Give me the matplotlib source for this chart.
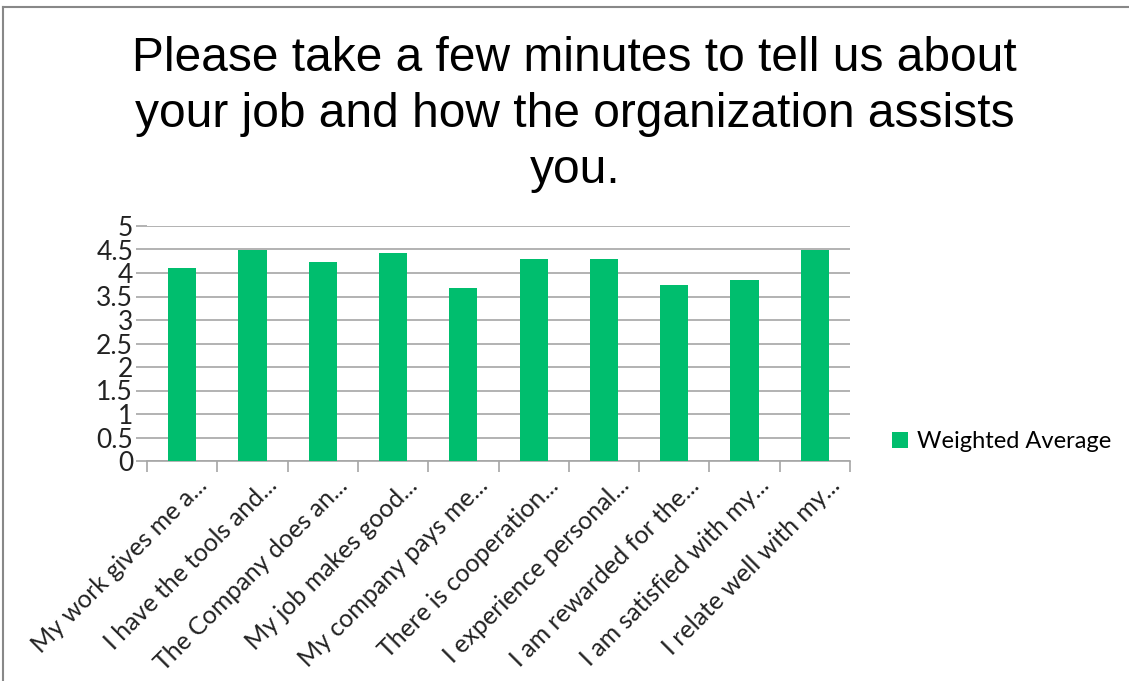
import numpy as np
import matplotlib.pyplot as plt
import matplotlib.transforms as mtransforms
from matplotlib.patches import Patch
from matplotlib.lines import Line2D

# Datos de la encuesta
preguntas = [
    'My work gives me a...',
    'I have the tools and...',
    'The Company does an...',
    'My job makes good...',
    'My company pays me...',
    'There is cooperation...',
    'I experience personal...',
    'I am rewarded for the...',
    'I am satisfied with my...',
    'I relate well with my...',
]
promedio = [4.10, 4.49, 4.23, 4.43, 3.69, 4.29, 4.29, 3.74, 3.85, 4.49]
serie = 'Weighted Average'
titulo = 'Please take a few minutes to tell us about\nyour job and how the organization assists\nyou.'

verde = '#00BE6E'
gris = '#A6A6A6'

fig = plt.figure(figsize=(11.29, 6.81), dpi=100)
ax = fig.add_axes([147 / 1129, 1 - 461 / 681, (850 - 147) / 1129, (461 - 226) / 681])

x = np.arange(len(preguntas))
ax.bar(x, promedio, width=0.4, color=verde, zorder=3)

ax.set_xlim(-0.5, len(preguntas) - 0.5)
ax.set_ylim(0, 5)
ax.set_yticks(np.arange(0, 5.01, 0.5))
ax.set_yticklabels(['0', '0.5', '1', '1.5', '2', '2.5', '3', '3.5', '4', '4.5', '5'])
ax.grid(axis='y', color=gris, linewidth=1.2, zorder=0)

# Marcas del eje x entre categorías, etiquetas en el centro
ax.set_xticks(np.arange(-0.5, len(preguntas), 1))
ax.set_xticklabels([])
ax.set_xticks(x, minor=True)
ax.set_xticklabels(preguntas, minor=True, rotation=45, ha='right', va='top',
                   rotation_mode='anchor', fontsize=18, family='Lato', color='#222222')
ax.tick_params(axis='x', which='major', length=8, color=gris, width=1.2)
ax.tick_params(axis='x', which='minor', length=0, pad=9)
ax.tick_params(axis='y', length=8, color=gris, width=1.2, labelsize=19, pad=2,
               labelcolor='#222222')
for lbl in ax.get_yticklabels():
    lbl.set_family('Lato')

desplazar = mtransforms.ScaledTranslation(13 / 100, 0, fig.dpi_scale_trans)
for lbl in ax.xaxis.get_minorticklabels():
    lbl.set_transform(lbl.get_transform() + desplazar)

for lado in ['left', 'right', 'top']:
    ax.spines[lado].set_visible(False)
ax.spines['bottom'].set_color(gris)
ax.spines['bottom'].set_linewidth(1.2)

fig.text(0.509, 1 - 36 / 681, titulo, ha='center', va='top', fontsize=34.5,
         family='Liberation Sans', linespacing=1.32)

fig.legend(handles=[Patch(facecolor=verde, label=serie)], loc='center left',
           bbox_to_anchor=(871 / 1129, 1 - 442 / 681), frameon=False,
           handlelength=0.65, handleheight=0.65, handletextpad=0.4,
           prop={'family': 'Lato', 'size': 17})

# Borde gris del marco
fig.add_artist(Line2D([3 / 1129, 3 / 1129], [0, 1 - 7 / 681], color='#888888', linewidth=1.5))
fig.add_artist(Line2D([3 / 1129, 1], [1 - 7 / 681, 1 - 7 / 681], color='#888888', linewidth=1.5))

fig.savefig('out.png', dpi=100)
